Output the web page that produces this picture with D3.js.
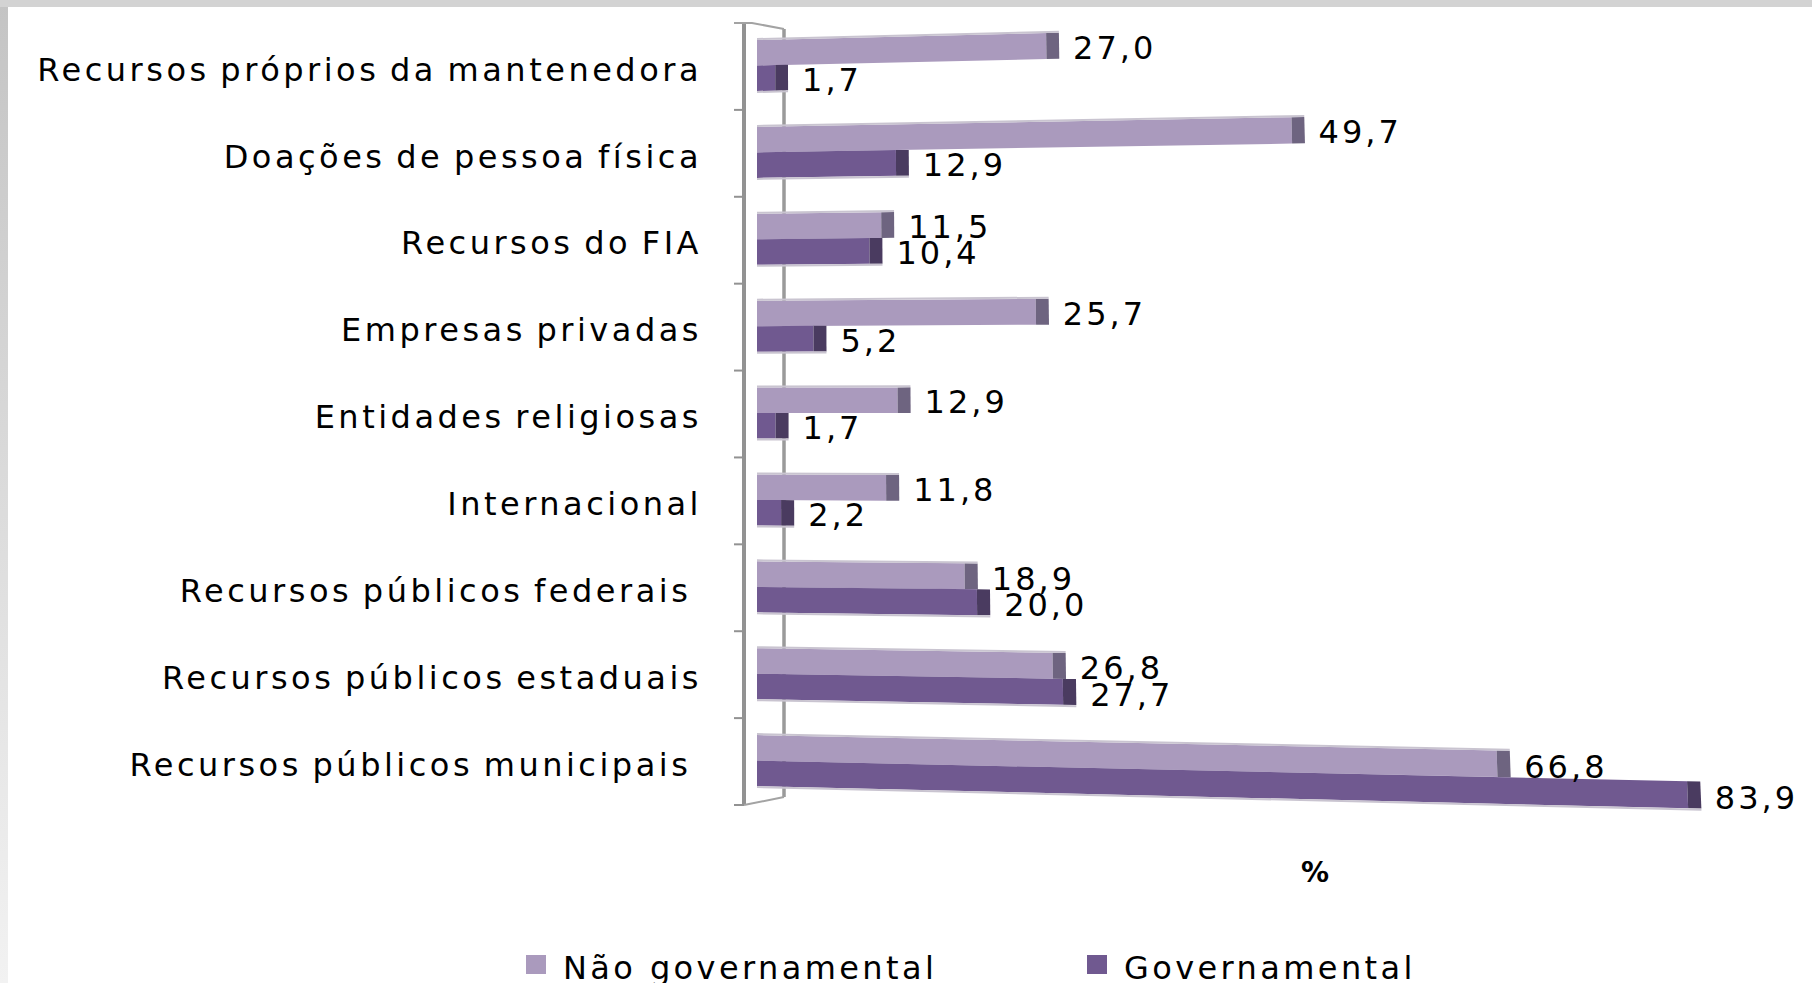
<!DOCTYPE html>
<html lang="pt">
<head>
<meta charset="UTF-8">
<title>Recursos recebidos</title>
<script src="https://cdn.jsdelivr.net/npm/d3@7"></script>
<style>
  body { margin:0; background:#fff; }
  svg text { font-family:'DejaVu Sans', sans-serif; fill:#000; }
  .cat { font-size:32px; letter-spacing:3.5px; word-spacing:-3px; white-space:pre; }
  .val { font-size:32px; letter-spacing:3px; }
  .leg { font-size:32px; letter-spacing:3.4px; }
</style>
</head>
<body>
<svg id="chart" width="1812" height="983"></svg>
<script>
// data
const categories = [
  "Recursos próprios da mantenedora",
  "Doações de pessoa física",
  "Recursos do FIA",
  "Empresas privadas",
  "Entidades religiosas",
  "Internacional",
  "Recursos públicos federais ",
  "Recursos públicos estaduais",
  "Recursos públicos municipais "
];
const naoGov = [27.0, 49.7, 11.5, 25.7, 12.9, 11.8, 18.9, 26.8, 66.8];
const gov    = [1.7, 12.9, 10.4, 5.2, 1.7, 2.2, 20.0, 27.7, 83.9];
const seriesNames = ["Não governamental", "Governamental"];
const colors = ["#aa9abd", "#705990"];
const sideColors = ["#6e6480", "#4a3b60"];

const svg = d3.select("#chart");

// frame of the slide
const grad = svg.append("defs").append("linearGradient")
  .attr("id", "edge").attr("x1", 0).attr("y1", 0).attr("x2", 0).attr("y2", 1);
grad.append("stop").attr("offset", "0%").attr("stop-color", "#c4c4c4");
grad.append("stop").attr("offset", "100%").attr("stop-color", "#f2f2f2");
svg.append("rect").attr("x", 0).attr("y", 0).attr("width", 8).attr("height", 983).attr("fill", "url(#edge)");
svg.append("rect").attr("x", 0).attr("y", 0).attr("width", 1812).attr("height", 7).attr("fill", "#d3d3d3");

const x0 = 757;
const x = d3.scaleLinear().domain([0, 100]).range([x0, x0 + 1090]);
const y = d3.scaleBand().domain(categories).range([23, 805]);
const yIn = d3.scaleBand().domain(seriesNames).range([17, 68]);
const depth = 13;

// light perspective: the floor of the chart comes toward the viewer
const yc = 407, ky = 6.4e-5, kx = 4.8e-5;
const proj = (px, py) => [
  x0 + (px - x0) * (1 + kx * (py - yc)),
  yc + (py - yc) * (1 + ky * (px - x0))
];
const poly = pts => pts.map(p => proj(p[0], p[1]).join(",")).join(" ");

const fmt = d3.formatLocale({decimal: ",", thousands: ".", grouping: [3], currency: ["", ""]}).format(".1f");

// axis wall
const axis = svg.append("g").attr("fill", "none");
axis.append("line").attr("x1", 784).attr("x2", 784).attr("y1", 29).attr("y2", 797)
  .attr("stroke", "#9a9a9a").attr("stroke-width", 3.5);
axis.append("line").attr("x1", 744).attr("x2", 744).attr("y1", 23).attr("y2", 805)
  .attr("stroke", "#929292").attr("stroke-width", 4);
axis.append("polyline").attr("points", "734,23 752,23 784,29")
  .attr("stroke", "#a3a3a3").attr("stroke-width", 2);
axis.append("line").attr("x1", 744).attr("x2", 784).attr("y1", 805).attr("y2", 797)
  .attr("stroke", "#a3a3a3").attr("stroke-width", 2);
axis.selectAll(".tick").data(categories.slice(1).concat([null]))
  .join("line")
  .attr("x1", 734).attr("x2", 744)
  .attr("y1", d => d ? y(d) : y.range()[1])
  .attr("y2", d => d ? y(d) : y.range()[1])
  .attr("stroke", "#929292").attr("stroke-width", 2);

// category labels
svg.append("g").selectAll("text").data(categories).join("text")
  .attr("class", "cat")
  .attr("x", 702).attr("y", d => y(d) + y.bandwidth() / 2 + 3)
  .attr("text-anchor", "end").attr("dy", "0.35em")
  .text(d => d);

// bars
const rows = [];
categories.forEach((c, i) => {
  rows.push({cat: c, s: 0, v: naoGov[i]});
  rows.push({cat: c, s: 1, v: gov[i]});
});

const bars = svg.append("g");
rows.forEach(d => {
  const top = y(d.cat) + yIn(seriesNames[d.s]);
  const bot = top + yIn.bandwidth();
  const xe = x(d.v);
  bars.append("polygon")
    .attr("points", poly([[x0, top], [xe, top], [xe, bot], [x0, bot]]))
    .attr("fill", colors[d.s]);
  bars.append("polygon")
    .attr("points", poly([[xe, top], [xe + depth, top], [xe + depth, bot], [xe, bot]]))
    .attr("fill", sideColors[d.s]);
  // soft grey edge of the 3d top / bottom
  const edgeY = d.s === 0 ? top - 1 : bot + 1;
  bars.append("polyline")
    .attr("points", poly([[x0, edgeY], [xe + depth, edgeY]]))
    .attr("fill", "none").attr("stroke", "#c9c4d0").attr("stroke-width", 2);
  const mid = (top + bot) / 2;
  const end = proj(xe + depth, mid);
  const lx = end[0] + 14;
  const ly = proj(lx, mid)[1] + 2;
  svg.append("text").attr("class", "val")
    .attr("x", lx).attr("y", ly).attr("dy", "0.35em")
    .text(fmt(d.v));
});

// unit
svg.append("text").attr("x", 1315).attr("y", 872).attr("dy", "0.35em")
  .attr("text-anchor", "middle").attr("font-size", 28).attr("font-weight", "bold")
  .text("%");

// legend
const legX = [526, 1087];
const leg = svg.append("g").selectAll("g").data(seriesNames).join("g")
  .attr("transform", (d, i) => `translate(${legX[i]},955)`);
leg.append("rect").attr("width", 20).attr("height", 19).attr("fill", (d, i) => colors[i]);
leg.append("text").attr("class", "leg").attr("x", 37).attr("y", 24).text(d => d);
</script>
</body>
</html>
